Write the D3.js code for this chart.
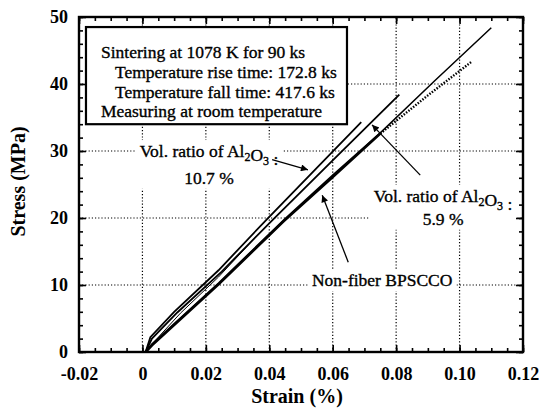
<!DOCTYPE html>
<html>
<head>
<meta charset="utf-8">
<script src="https://cdn.jsdelivr.net/npm/d3@7"></script>
<style>
  body { margin: 0; background: #fff; }
  svg { display: block; }
  text { font-family: "Liberation Serif", "Times New Roman", serif; fill: #000; }
  .note { stroke: #000; stroke-width: 0.35px; }
</style>
</head>
<body>
<div id="chart"></div>
<script>
// tick labels
const strainTicks = [-0.02, 0, 0.02, 0.04, 0.06, 0.08, 0.10, 0.12];
const stressTicks = [0, 10, 20, 30, 40, 50];
const strainGrid = [0, 0.02, 0.04, 0.06, 0.08, 0.10];
const stressGrid = [10, 20, 30, 40];

// curves, [strain %, stress MPa]
const curve107 = [[0.001, 0], [0.0025, 2.2], [0.010, 6.0], [0.024, 12.2], [0.039, 19.7], [0.054, 27.0], [0.069, 34.3]];
const curve59 = [[0.001, 0], [0.003, 2.0], [0.011, 5.9], [0.025, 12.0], [0.041, 19.7], [0.060, 28.6], [0.081, 38.4]];
const curveLong = [[0.001, 0], [0.003, 1.2], [0.024, 10.3], [0.0445, 19.7], [0.060, 26.4], [0.075, 32.7], [0.092, 40.4], [0.110, 48.4]];
const innerLoop = [[0.0015, 0.4], [0.012, 5.8], [0.024, 11.2], [0.036, 17.3]];
const nonFiber = [[0.001, 0], [0.003, 1.0], [0.024, 10.1], [0.0445, 19.5], [0.060, 26.1], [0.075, 32.6]];
const nonFiberTail = [[0.075, 32.6], [0.090, 38.3], [0.104, 43.4]];

const width = 539, height = 408;
const x = d3.scaleLinear().domain([-0.02, 0.12]).range([79, 523]);
const y = d3.scaleLinear().domain([0, 50]).range([352, 17]);

const svg = d3.select('#chart').append('svg')
  .attr('width', width)
  .attr('height', height);

// dotted grid
svg.append('g').selectAll('line.gx')
  .data(strainGrid).enter().append('line')
  .attr('x1', d => x(d)).attr('x2', d => x(d))
  .attr('y1', y(0)).attr('y2', y(50))
  .attr('stroke', '#000').attr('stroke-width', 1.2)
  .attr('stroke-dasharray', '1.2,2');

svg.append('g').selectAll('line.gy')
  .data(stressGrid).enter().append('line')
  .attr('x1', x(-0.02)).attr('x2', x(0.12))
  .attr('y1', d => y(d)).attr('y2', d => y(d))
  .attr('stroke', '#000').attr('stroke-width', 1.2)
  .attr('stroke-dasharray', '1.2,2');

// curves
const line = d3.line().x(d => x(d[0])).y(d => y(d[1]));

svg.append('path').datum(innerLoop).attr('d', line)
  .attr('fill', 'none').attr('stroke', '#000').attr('stroke-width', 1);
svg.append('path').datum(curveLong).attr('d', line)
  .attr('fill', 'none').attr('stroke', '#000').attr('stroke-width', 1.5);
svg.append('path').datum(nonFiber).attr('d', line)
  .attr('fill', 'none').attr('stroke', '#000').attr('stroke-width', 2.6);
svg.append('path').datum(nonFiberTail).attr('d', line)
  .attr('fill', 'none').attr('stroke', '#000').attr('stroke-width', 2.4)
  .attr('stroke-dasharray', '1.5,1.5');
svg.append('path').datum(curve107).attr('d', line)
  .attr('fill', 'none').attr('stroke', '#000').attr('stroke-width', 1.8);
svg.append('path').datum(curve59).attr('d', line)
  .attr('fill', 'none').attr('stroke', '#000').attr('stroke-width', 1.8);

// conditions box
const bx = x(-0.0178), by = y(48.5);
const box = svg.append('g');
box.append('rect')
  .attr('x', bx).attr('y', by)
  .attr('width', x(0.0645) - bx).attr('height', y(34.0) - by)
  .attr('fill', '#fff').attr('stroke', '#000').attr('stroke-width', 2.2);
const boxLines = [
  ['Sintering at 1078 K for 90 ks', 15, 31],
  ['Temperature rise time: 172.8 ks', 29, 51],
  ['Temperature fall time: 417.6 ks', 29, 71],
  ['Measuring at room temperature', 15, 90]
];
box.selectAll('text').data(boxLines).enter().append('text')
  .attr('class', 'note')
  .attr('x', d => bx + d[1]).attr('y', d => by + d[2])
  .style('font-size', '17.5px')
  .text(d => d[0]);

// labels with white background
function label(cx, lines) {
  const g = svg.append('g');
  lines.forEach(l => {
    const t = g.append('text')
      .attr('class', 'note')
      .attr('x', x(cx)).attr('y', y(l.at))
      .attr('text-anchor', 'middle')
      .style('font-size', '17.5px');
    l.parts.forEach(p => {
      if (p.sub) {
        t.append('tspan').attr('dy', 4).style('font-size', '12px').text(p.s);
        t.append('tspan').attr('dy', -4).text('');
      } else {
        t.append('tspan').text(p.s);
      }
    });
  });
  const b = g.node().getBBox();
  g.insert('rect', 'text')
    .attr('x', b.x - 4).attr('y', b.y - 1)
    .attr('width', b.width + 8).attr('height', b.height + 2)
    .attr('fill', '#fff');
}

const alParts = [{s: 'Vol. ratio of Al'}, {s: '2', sub: true}, {s: 'O'}, {s: '3', sub: true}, {s: ' :'}];
label(0.021, [{at: 29.1, parts: alParts}, {at: 25.1, parts: [{s: '10.7 %'}]}]);
label(0.0948, [{at: 22.4, parts: alParts}, {at: 19.0, parts: [{s: '5.9 %'}]}]);
label(0.0756, [{at: 9.85, parts: [{s: 'Non-fiber BPSCCO'}]}]);

// arrows
svg.append('defs').append('marker')
  .attr('id', 'head')
  .attr('viewBox', '0 0 10 10')
  .attr('refX', 10).attr('refY', 5)
  .attr('markerWidth', 10).attr('markerHeight', 7)
  .attr('markerUnits', 'userSpaceOnUse')
  .attr('orient', 'auto')
  .append('path').attr('d', 'M0,0L10,5L0,10Z').attr('fill', '#000');

const arrows = [
  [[0.0409, 28.7], [0.0522, 27.2]],
  [[0.0876, 26.4], [0.0724, 33.9]],
  [[0.0649, 13.4], [0.0567, 23.4]]
];
svg.append('g').selectAll('line').data(arrows).enter().append('line')
  .attr('x1', d => x(d[0][0])).attr('y1', d => y(d[0][1]))
  .attr('x2', d => x(d[1][0])).attr('y2', d => y(d[1][1]))
  .attr('stroke', '#000').attr('stroke-width', 1.3)
  .attr('marker-end', 'url(#head)');

// axes, ticks pointing inward
const fmt = d => d === 0 ? '0' : d.toFixed(2);
const strainMinor = d3.range(-0.02, 0.1201, 0.005);
const stressMinor = d3.range(0, 50.01, 2);

function styleAxis(g) {
  g.select('.domain').remove();
  g.selectAll('line').attr('stroke-width', 1.6);
  g.selectAll('text')
    .style('font-family', '"Liberation Serif", "Times New Roman", serif')
    .style('font-size', '18px')
    .style('font-weight', 'bold');
}

svg.append('g').attr('transform', `translate(0,${y(0)})`)
  .call(d3.axisBottom(x).tickValues(strainMinor).tickSize(-4).tickFormat(''))
  .call(styleAxis);
svg.append('g').attr('transform', `translate(0,${y(0)})`)
  .call(d3.axisBottom(x).tickValues(strainTicks).tickSize(-7).tickPadding(15).tickFormat(fmt))
  .call(styleAxis);
svg.append('g').attr('transform', `translate(0,${y(50)})`)
  .call(d3.axisTop(x).tickValues(strainMinor).tickSize(-4).tickFormat(''))
  .call(styleAxis);
svg.append('g').attr('transform', `translate(0,${y(50)})`)
  .call(d3.axisTop(x).tickValues(strainTicks).tickSize(-7).tickFormat(''))
  .call(styleAxis);

svg.append('g').attr('transform', `translate(${x(-0.02)},0)`)
  .call(d3.axisLeft(y).tickValues(stressMinor).tickSize(-4).tickFormat(''))
  .call(styleAxis);
svg.append('g').attr('transform', `translate(${x(-0.02)},0)`)
  .call(d3.axisLeft(y).tickValues(stressTicks).tickSize(-7).tickPadding(11).tickFormat(d3.format('d')))
  .call(styleAxis);
svg.append('g').attr('transform', `translate(${x(0.12)},0)`)
  .call(d3.axisRight(y).tickValues(stressMinor).tickSize(-4).tickFormat(''))
  .call(styleAxis);
svg.append('g').attr('transform', `translate(${x(0.12)},0)`)
  .call(d3.axisRight(y).tickValues(stressTicks).tickSize(-7).tickFormat(''))
  .call(styleAxis);

// frame
svg.append('rect')
  .attr('x', x(-0.02)).attr('y', y(50))
  .attr('width', x(0.12) - x(-0.02)).attr('height', y(0) - y(50))
  .attr('fill', 'none').attr('stroke', '#000').attr('stroke-width', 2.4);

// axis titles
svg.append('text')
  .attr('x', (x(-0.02) + x(0.12)) / 2 - 4).attr('y', 403)
  .attr('text-anchor', 'middle')
  .style('font-size', '20px').style('font-weight', 'bold')
  .text('Strain (%)');
svg.append('text')
  .attr('transform', `translate(25,${(y(0) + y(50)) / 2 - 3}) rotate(-90)`)
  .attr('text-anchor', 'middle')
  .style('font-size', '20px').style('font-weight', 'bold')
  .text('Stress (MPa)');
</script>
</body>
</html>
